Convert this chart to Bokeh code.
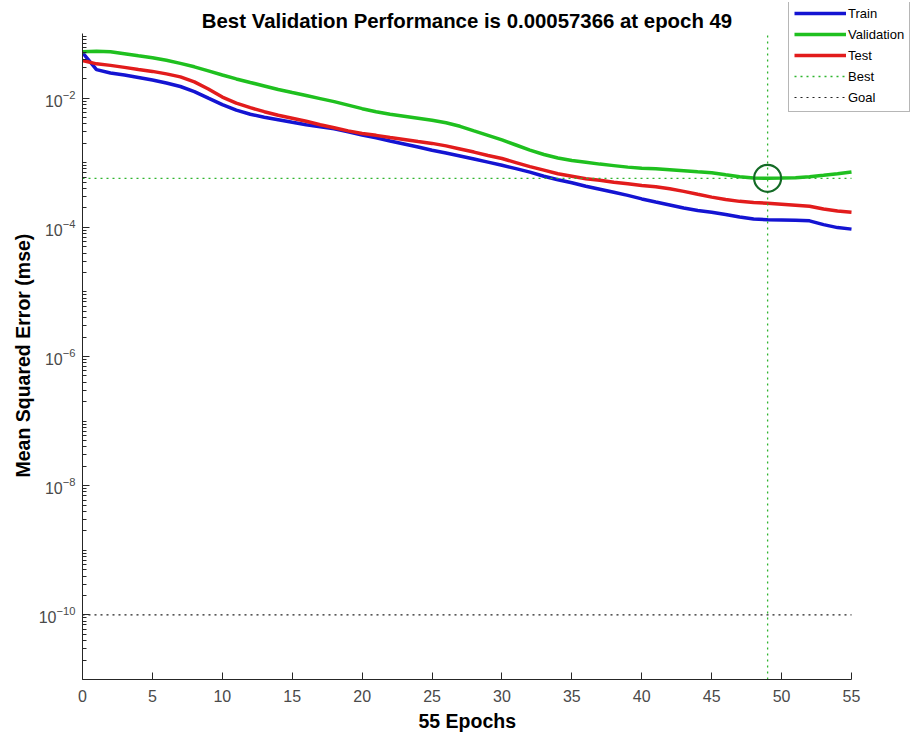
from bokeh.plotting import figure
from bokeh.models import FixedTicker, LogTickFormatter, Legend, LegendItem, Label, Range1d, Title
from bokeh.embed import file_html
from bokeh.resources import INLINE

# ---- data ----
epochs = list(range(56))
train = [0.0504, 0.0276, 0.0245, 0.0228, 0.0209, 0.0191, 0.01714, 0.01511, 0.01263, 0.0100,
         0.00792, 0.0065, 0.00563, 0.00505, 0.00462, 0.00422, 0.00386, 0.00359, 0.00334, 0.0030,
         0.00268, 0.00242, 0.00217, 0.00195, 0.00175, 0.00156, 0.00141, 0.00127, 0.00114, 0.00102,
         0.000911, 0.000809, 0.000714, 0.000618, 0.000545, 0.000489, 0.000432, 0.000388, 0.000348, 0.000312,
         0.000275, 0.000247, 0.000222, 0.000199, 0.000182, 0.000171, 0.000158, 0.000144, 0.000134, 0.000131,
         0.000130, 0.000129, 0.000126, 0.000110, 0.0000989, 0.0000937]
validation = [0.0522, 0.0531, 0.0522, 0.0486, 0.0452, 0.0421, 0.0385, 0.0345, 0.0305, 0.0264,
              0.0228, 0.0198, 0.01745, 0.0154, 0.01357, 0.01218, 0.01094, 0.00982, 0.00882, 0.00778,
              0.00686, 0.00616, 0.00563, 0.00524, 0.00488, 0.00454, 0.00415, 0.00366, 0.00311, 0.00265,
              0.00225, 0.00188, 0.00157, 0.00134, 0.00118, 0.00108, 0.00102, 0.000951, 0.000901, 0.000854,
              0.000824, 0.000809, 0.000781, 0.000753, 0.000726, 0.000701, 0.000652, 0.000607, 0.000579, 0.00057366,
              0.000578, 0.000586, 0.000607, 0.00064, 0.000676, 0.000719]
test = [0.0382, 0.0339, 0.0321, 0.0299, 0.0278, 0.0259, 0.0237, 0.0213, 0.0178, 0.01381,
        0.01036, 0.00836, 0.00711, 0.00616, 0.00543, 0.00488, 0.00438, 0.00386, 0.00347, 0.00311,
        0.00284, 0.00265, 0.00246, 0.00229, 0.00213, 0.00199, 0.00182, 0.00163, 0.00146, 0.00129,
        0.00116, 0.001004, 0.000869, 0.000767, 0.000676, 0.000618, 0.000565, 0.000535, 0.000498, 0.000472,
        0.000444, 0.000424, 0.000394, 0.000360, 0.000324, 0.000293, 0.000270, 0.000252, 0.000243, 0.000236,
        0.000228, 0.000220, 0.000212, 0.000192, 0.000179, 0.000171]
best_epoch = 49
best_perf = 0.00057366
goal = 1e-10
x_ticks = list(range(0, 56, 5))
y_major_ticks = [1e-10, 1e-8, 1e-6, 1e-4, 1e-2]
y_limits = (1e-11, 1e-1)
labels = ["Train", "Validation", "Test", "Best", "Goal"]
title_text = "Best Validation Performance is 0.00057366 at epoch 49"
x_label = "55 Epochs"
y_label = "Mean Squared Error  (mse)"

FONT = "Liberation Sans"
AX = "#262626"
TICKTXT = "#4a4a4a"
BLUE = "#1414d2"
GREEN = "#1fc01f"
RED = "#e21c1c"
BESTC = "#2fb52f"
DOT = "2 4"

# frame geometry: axes box 769 x 646 px, frame enlarged so the legend can sit above/right of it
AXW, AXH = 769, 646
FW, FH = 830, 677
x_end = epochs[0] + (epochs[-1] - epochs[0]) * FW / AXW
decades = 10 ** ((FH / AXH) * 10)  # span of y in the enlarged frame
y_top = y_limits[0] * decades

y_minor_ticks = [m * 10.0 ** k for k in range(-11, -1) for m in range(1, 10)
                 if not any(abs(m * 10.0 ** k - t) < 1e-20 for t in y_major_ticks)]

p = figure(frame_width=FW, frame_height=FH, y_axis_type="log",
           x_range=Range1d(epochs[0], x_end), y_range=Range1d(y_limits[0], y_top),
           output_backend="svg", toolbar_location=None,
           min_border_left=82, min_border_right=7, min_border_top=2, min_border_bottom=61)

p.outline_line_color = None
p.xgrid.visible = False
p.ygrid.visible = False
p.background_fill_color = "white"
p.border_fill_color = "white"

xa = p.xaxis[0]
xa.ticker = FixedTicker(ticks=x_ticks)
xa.bounds = (epochs[0], epochs[-1])
xa.major_label_text_font = FONT
xa.major_label_text_font_size = "16px"
xa.major_label_text_color = TICKTXT
xa.major_label_standoff = 10
xa.major_tick_in = 7
xa.major_tick_out = 0
xa.minor_tick_line_color = None
xa.axis_line_color = AX
xa.major_tick_line_color = AX

ya = p.yaxis[0]
ya.ticker = FixedTicker(ticks=y_major_ticks, minor_ticks=y_minor_ticks)
ya.formatter = LogTickFormatter()
ya.bounds = y_limits
ya.major_label_text_font = FONT
ya.major_label_text_font_size = "16px"
ya.major_label_text_color = TICKTXT
ya.major_label_standoff = 7
ya.major_tick_in = 7
ya.major_tick_out = 0
ya.minor_tick_in = 4
ya.minor_tick_out = 0
ya.axis_line_color = AX
ya.major_tick_line_color = AX
ya.minor_tick_line_color = AX

# axis titles, aligned on the axes box (not on the enlarged frame)
xt = Title(text=x_label, align="left", offset=336, standoff=6, text_font=FONT,
           text_font_size="19.5px", text_font_style="bold", text_color="#000000")
p.add_layout(xt, "below")
yt = Title(text=y_label, align="left", offset=202, standoff=3, text_font=FONT,
           text_font_size="19.5px", text_font_style="bold", text_color="#000000")
p.add_layout(yt, "left")

r_train = p.line(epochs, train, line_color=BLUE, line_width=3.5)
r_val = p.line(epochs, validation, line_color=GREEN, line_width=3.5)
r_test = p.line(epochs, test, line_color=RED, line_width=3.5)

p.line([best_epoch, best_epoch], list(y_limits), line_color=BESTC, line_dash=DOT, line_width=1.3)
r_best = p.line([epochs[0], epochs[-1]], [best_perf, best_perf], line_color=BESTC,
                line_dash=DOT, line_width=1.3)
r_goal = p.line([epochs[0], epochs[-1]], [goal, goal], line_color="#222222",
                line_dash=DOT, line_width=1.2)
p.scatter([best_epoch], [best_perf], marker="circle", size=27, fill_color=None,
          line_color="#146b26", line_width=2.2)

title = Label(x=(epochs[0] + epochs[-1]) / 2, y=FH - 18, y_units="screen", text=title_text,
              text_align="center", text_baseline="middle", text_font=FONT,
              text_font_size="20.4px", text_font_style="bold", text_color="#000000")
p.add_layout(title)

legend = Legend(items=[LegendItem(label=labels[0], renderers=[r_train]),
                       LegendItem(label=labels[1], renderers=[r_val]),
                       LegendItem(label=labels[2], renderers=[r_test]),
                       LegendItem(label=labels[3], renderers=[r_best]),
                       LegendItem(label=labels[4], renderers=[r_goal])],
                location=(706, 567), orientation="vertical",
                label_text_font=FONT, label_text_font_size="13px", label_text_color="#000000",
                glyph_width=52, glyph_height=18, label_height=18, label_standoff=2,
                spacing=3, padding=5, margin=0,
                border_line_color="#6e6e6e", border_line_width=1,
                background_fill_color="white", background_fill_alpha=1.0)
p.add_layout(legend)

open("out.html", "w").write(file_html(p, INLINE))
